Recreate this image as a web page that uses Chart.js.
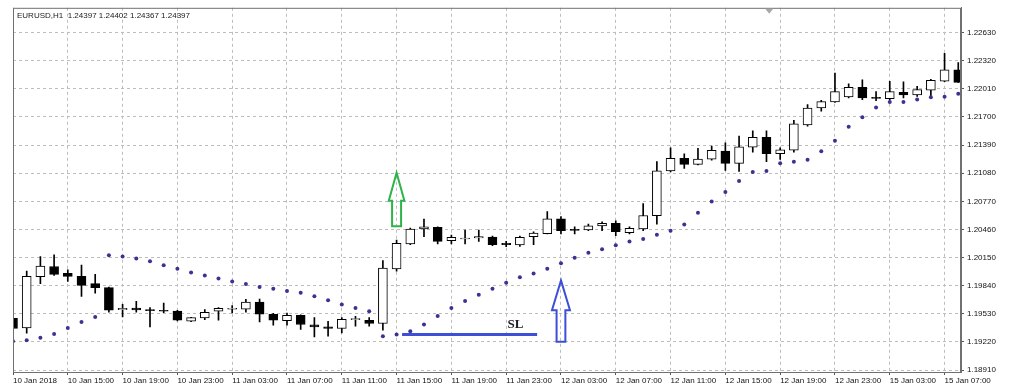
<!DOCTYPE html>
<html><head><meta charset="utf-8">
<script src="https://cdn.jsdelivr.net/npm/chart.js@4"></script>
<style>html,body{margin:0;padding:0;background:#fff}#wrap{width:1024px;height:388px}</style>
</head><body><div id="wrap"><canvas id="c" width="1024" height="388"></canvas></div>
<script>
const open=[1.19481,1.19374,1.19938,1.20051,1.19975,1.19942,1.19862,1.19818,1.19574,1.19594,1.19576,1.19569,1.19561,1.19448,1.19484,1.19558,1.19580,1.19580,1.19660,1.19525,1.19455,1.19514,1.19407,1.19385,1.19368,1.19466,1.19459,1.19423,1.20026,1.20300,1.20465,1.20483,1.20337,1.20355,1.20366,1.20377,1.20307,1.20289,1.20381,1.20413,1.20578,1.20461,1.20454,1.20498,1.20526,1.20424,1.20465,1.20611,1.21105,1.21244,1.21178,1.21236,1.21324,1.21189,1.21368,1.21475,1.21295,1.21335,1.21613,1.21799,1.21865,1.21920,1.22026,1.21917,1.21902,1.21972,1.21942,1.21997,1.22096,1.22221];
const high=[1.19492,1.20000,1.20161,1.20180,1.20015,1.20066,1.19964,1.19824,1.19634,1.19667,1.19598,1.19649,1.19569,1.19492,1.19576,1.19598,1.19620,1.19689,1.19693,1.19536,1.19539,1.19519,1.19488,1.19448,1.19488,1.19503,1.19488,1.20117,1.20344,1.20474,1.20575,1.20490,1.20399,1.20454,1.20454,1.20386,1.20329,1.20386,1.20435,1.20658,1.20603,1.20490,1.20518,1.20545,1.20556,1.20490,1.20746,1.21207,1.21360,1.21295,1.21354,1.21379,1.21415,1.21489,1.21547,1.21547,1.21360,1.21664,1.21837,1.21884,1.22183,1.22067,1.22111,1.21979,1.22092,1.22089,1.22037,1.22114,1.22403,1.22301];
const low=[1.19360,1.19316,1.19862,1.19953,1.19887,1.19722,1.19758,1.19547,1.19495,1.19547,1.19385,1.19543,1.19451,1.19442,1.19466,1.19459,1.19539,1.19547,1.19440,1.19404,1.19404,1.19357,1.19276,1.19283,1.19319,1.19393,1.19393,1.19349,1.20000,1.20293,1.20381,1.20300,1.20300,1.20300,1.20329,1.20282,1.20271,1.20274,1.20293,1.20410,1.20410,1.20410,1.20446,1.20446,1.20392,1.20410,1.20446,1.20518,1.21094,1.21134,1.21171,1.21225,1.21112,1.21101,1.21313,1.21207,1.21233,1.21313,1.21599,1.21763,1.21862,1.21909,1.21892,1.21881,1.21889,1.21909,1.21928,1.21935,1.22089,1.22081];
const close=[1.19368,1.19942,1.20055,1.19964,1.19942,1.19843,1.19818,1.19569,1.19590,1.19572,1.19565,1.19558,1.19459,1.19488,1.19547,1.19590,1.19590,1.19660,1.19525,1.19459,1.19514,1.19412,1.19385,1.19368,1.19470,1.19477,1.19423,1.20033,1.20307,1.20465,1.20490,1.20329,1.20373,1.20366,1.20381,1.20293,1.20293,1.20373,1.20421,1.20578,1.20446,1.20450,1.20501,1.20526,1.20435,1.20472,1.20614,1.21105,1.21244,1.21178,1.21236,1.21332,1.21189,1.21371,1.21475,1.21295,1.21338,1.21624,1.21799,1.21870,1.21979,1.22026,1.21909,1.21906,1.21979,1.21942,1.22001,1.22103,1.22221,1.22081];
const sar=[1.19228,1.19239,1.19265,1.19308,1.19374,1.19440,1.19495,1.20175,1.20161,1.20139,1.20110,1.20066,1.20026,1.19986,1.19953,1.19920,1.19887,1.19859,1.19824,1.19807,1.19780,1.19763,1.19722,1.19678,1.19631,1.19594,1.19558,1.19283,1.19302,1.19338,1.19412,1.19506,1.19594,1.19671,1.19741,1.19807,1.19872,1.19934,1.19975,1.20026,1.20088,1.20147,1.20202,1.20241,1.20285,1.20326,1.20355,1.20402,1.20446,1.20515,1.20644,1.20768,1.20874,1.20995,1.21094,1.21105,1.21189,1.21207,1.21229,1.21321,1.21437,1.21591,1.21697,1.21804,1.21865,1.21865,1.21892,1.21917,1.21924,1.21957];
const xTickIndex=[0,4,8,12,16,20,24,28,32,36,40,44,48,52,56,60,64,68];
const xTickLabels=['10 Jan 2018','10 Jan 15:00','10 Jan 19:00','10 Jan 23:00','11 Jan 03:00','11 Jan 07:00','11 Jan 11:00','11 Jan 15:00','11 Jan 19:00','11 Jan 23:00','12 Jan 03:00','12 Jan 07:00','12 Jan 11:00','12 Jan 15:00','12 Jan 19:00','12 Jan 23:00','15 Jan 03:00','15 Jan 07:00'];
const yTicks=[1.18910,1.19220,1.19530,1.19840,1.20150,1.20460,1.20770,1.21080,1.21390,1.21700,1.22010,1.22320,1.22630];
const titleText='EURUSD,H1  1.24397 1.24402 1.24367 1.24397';

// annotations in data units (bar index, price)
const greenArrow={idx:28, tip:1.21086, head:1.20776, base:1.20494};
const blueArrow={idx:40, tip:1.19898, head:1.19569, base:1.19221};
const slLine={from:28.4, to:38.26, price:1.19302};
const slLabel={idx:36.1, price:1.19412, text:'SL'};

const FONT='"Liberation Sans", Arial, sans-serif';
const bull=open.map((o,i)=>close[i]>=o);
const bodies=open.map((o,i)=>({x:i,y:[o,close[i]]}));
const wicks=open.map((o,i)=>({x:i,y:[low[i],high[i]]}));
const sarPts=sar.map((v,i)=>({x:i,y:v}));

function drawArrow(ctx,x,y,a,hw,sw,color){
  const xt=x.getPixelForValue(a.idx), yt=y.getPixelForValue(a.tip), yh=y.getPixelForValue(a.head), yb=y.getPixelForValue(a.base);
  ctx.save();ctx.strokeStyle=color;ctx.lineWidth=2;ctx.lineJoin='miter';
  ctx.beginPath();
  ctx.moveTo(xt,yt);ctx.lineTo(xt+hw,yh);ctx.lineTo(xt+sw,yh);ctx.lineTo(xt+sw,yb);
  ctx.lineTo(xt-sw,yb);ctx.lineTo(xt-sw,yh);ctx.lineTo(xt-hw,yh);ctx.closePath();
  ctx.stroke();ctx.restore();
}

const deco={
  id:'deco',
  beforeDraw(chart){const c=chart.ctx;c.save();c.fillStyle='#fff';c.fillRect(0,0,chart.width,chart.height);c.restore();},
  afterDatasetsDraw(chart){
    const {ctx,chartArea:a,scales:{x,y}}=chart;
    ctx.save();
    ctx.strokeStyle='#707070';ctx.lineWidth=1;
    ctx.strokeRect(a.left+0.5,a.top+0.5,a.right-a.left-1,a.bottom-a.top);
    ctx.fillStyle='#1a1a1a';ctx.font='8px '+FONT;ctx.textBaseline='middle';ctx.textAlign='left';
    ctx.fillText(titleText,a.left+4,a.top+8);
    const mx=x.getPixelForValue(55.2);
    ctx.fillStyle='#a8a8a8';ctx.beginPath();ctx.moveTo(mx-4,a.top+1);ctx.lineTo(mx+4,a.top+1);ctx.lineTo(mx,a.top+6);ctx.closePath();ctx.fill();
    ctx.restore();
    drawArrow(ctx,x,y,greenArrow,7.8,4.5,'#2eb34a');
    drawArrow(ctx,x,y,blueArrow,9,4.4,'#3c4fd6');
    ctx.save();
    ctx.strokeStyle='#3c4fd6';ctx.lineWidth=3;
    const yl=y.getPixelForValue(slLine.price);
    ctx.beginPath();ctx.moveTo(x.getPixelForValue(slLine.from),yl);ctx.lineTo(x.getPixelForValue(slLine.to),yl);ctx.stroke();
    ctx.fillStyle='#1c1c1c';ctx.font='bold 13px "Liberation Serif", "Times New Roman", serif';ctx.textBaseline='middle';ctx.textAlign='left';
    ctx.fillText(slLabel.text,x.getPixelForValue(slLabel.idx),y.getPixelForValue(slLabel.price));
    ctx.restore();
  }
};

new Chart(document.getElementById('c'),{
  type:'bar',
  data:{datasets:[
    {type:'line',label:'SAR',data:sarPts,showLine:false,pointRadius:2,pointHoverRadius:2,pointBackgroundColor:'#3b3391',pointBorderWidth:0,clip:0,order:1},
    {label:'body',data:bodies,grouped:false,barThickness:9,backgroundColor:bull.map(b=>b?'#ffffff':'#000000'),borderColor:'#000',borderWidth:1,borderSkipped:false,clip:0,order:2},
    {label:'wick',data:wicks,grouped:false,barThickness:1,backgroundColor:'#000',borderWidth:0,clip:0,order:3}
  ]},
  options:{
    responsive:false,animation:false,
    layout:{padding:{left:13,top:6,right:0,bottom:0}},
    plugins:{legend:{display:false},tooltip:{enabled:false},title:{display:false}},
    scales:{
      x:{type:'linear',min:0,max:69.2,offset:false,
        afterBuildTicks:s=>{s.ticks=xTickIndex.map(v=>({value:v}));},
        afterFit:s=>{s.height=16;},
        ticks:{autoSkip:false,maxRotation:0,minRotation:0,align:'start',padding:1,color:'#111',font:{family:FONT,size:8},
          callback:v=>{const k=xTickIndex.indexOf(v);return k>=0?xTickLabels[k]:'';}},
        grid:{offset:false,color:'#bdbdbd',lineWidth:1,tickLength:3,tickColor:'#555'},
        border:{display:true,color:'#707070',width:1,dash:[3,3]}
      },
      y:{type:'linear',position:'right',min:1.18888,max:1.22904,
        afterBuildTicks:s=>{s.ticks=yTicks.map(v=>({value:v}));},
        afterFit:s=>{s.width=63;},
        ticks:{padding:3,color:'#111',font:{family:FONT,size:8},callback:v=>Number(v).toFixed(5)},
        grid:{color:'#bdbdbd',lineWidth:1,tickLength:3,tickColor:'#555'},
        border:{display:true,color:'#707070',width:1,dash:[3,3]}
      }
    }
  },
  plugins:[deco]
});
</script></body></html>
